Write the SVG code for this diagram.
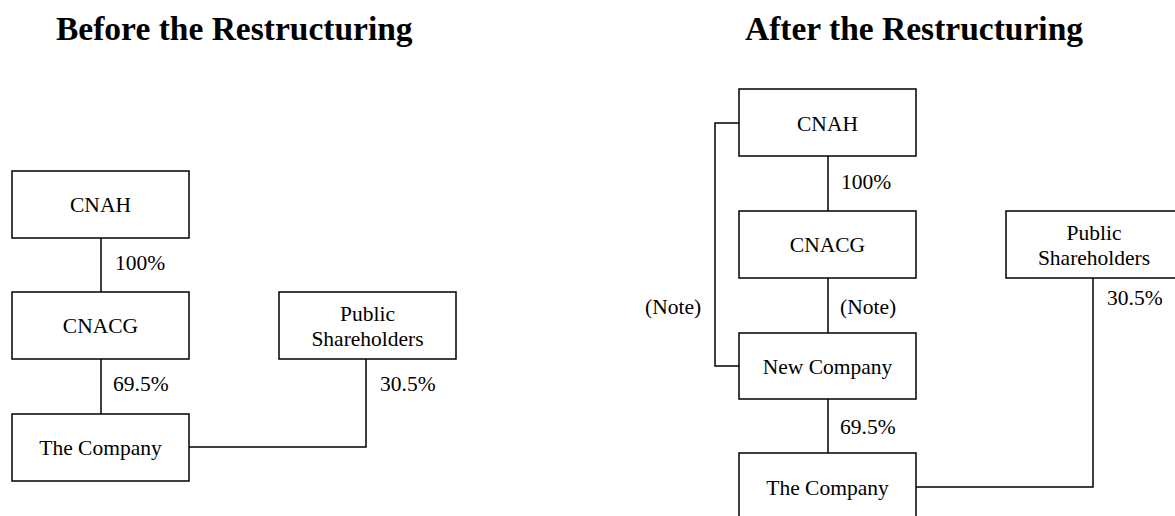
<svg xmlns="http://www.w3.org/2000/svg" width="1175" height="516" viewBox="0 0 1175 516">
<style>
.box{fill:#fff;stroke:#000;stroke-width:1.5}
.ln{fill:none;stroke:#000;stroke-width:1.5}
text{font-family:"Liberation Serif","Times New Roman",serif;font-size:21.5px;fill:#000}
.c{text-anchor:middle}
.t{font-size:33.5px;font-weight:bold}
</style>
<rect width="1175" height="516" fill="#fff"/>
<text class="t" x="56" y="40">Before the Restructuring</text>
<text class="t" x="745" y="40">After the Restructuring</text>
<g id="connectors">
<path class="ln" d="M101 238V292M101 359V414M189 447H366V359"/>
<path class="ln" d="M828 156V211M828 278V333M828 399V453M916 487H1093V278M739 123H715V366H739"/>
</g>
<g id="labels">
<text x="115" y="270">100%</text>
<text x="113" y="391">69.5%</text>
<text x="380" y="391">30.5%</text>
<text x="841" y="189">100%</text>
<text x="840" y="314">(Note)</text>
<text x="645" y="314">(Note)</text>
<text x="840" y="434">69.5%</text>
<text x="1107" y="305">30.5%</text>
</g>
<g id="b-cnah"><rect class="box" x="12" y="171" width="177" height="67"/><text class="c" x="100.5" y="212">CNAH</text></g>
<g id="b-cnacg"><rect class="box" x="12" y="292" width="177" height="67"/><text class="c" x="100.5" y="333">CNACG</text></g>
<g id="b-company"><rect class="box" x="12" y="414" width="177" height="67"/><text class="c" x="100.5" y="455">The Company</text></g>
<g id="b-public"><rect class="box" x="279" y="292" width="177" height="67"/><text class="c" x="367.5" y="321">Public</text><text class="c" x="367.5" y="346">Shareholders</text></g>
<g id="a-cnah"><rect class="box" x="739" y="89" width="177" height="67"/><text class="c" x="827.5" y="131">CNAH</text></g>
<g id="a-cnacg"><rect class="box" x="739" y="211" width="177" height="67"/><text class="c" x="827.5" y="252">CNACG</text></g>
<g id="a-newco"><rect class="box" x="739" y="333" width="177" height="66"/><text class="c" x="827.5" y="374">New Company</text></g>
<g id="a-company"><rect class="box" x="739" y="453" width="177" height="67"/><text class="c" x="827.5" y="495">The Company</text></g>
<g id="a-public"><rect class="box" x="1006" y="211" width="177" height="67"/><text class="c" x="1094" y="240">Public</text><text class="c" x="1094" y="265">Shareholders</text></g>
</svg>
